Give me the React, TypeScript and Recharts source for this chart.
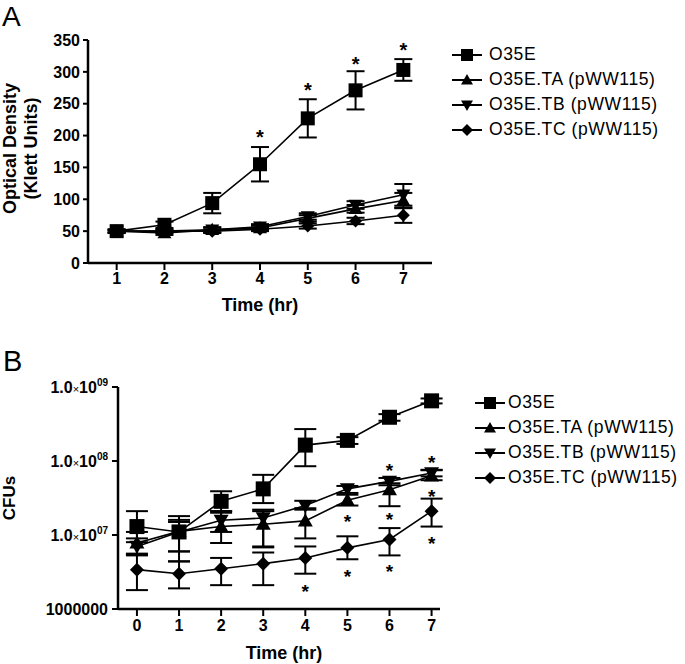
import React from "react";
import { ComposedChart, Line, XAxis, YAxis, ErrorBar, Legend, Label } from "recharts";

const FONT = "Arial, 'Liberation Sans', Helvetica, sans-serif";

// ---- panel A: optical density ----
const hoursA = [1, 2, 3, 4, 5, 6, 7];
const odO35E = [50, 60, 94, 155, 227, 271, 303];
const odO35EErr = [3, 5, 16, 27, 30, 30, 17];
const odTA = [50, 47, 52, 55, 70, 85, 98];
const odTAErr = [2, 3, 4, 4, 5, 6, 12];
const odTB = [50, 50, 52, 57, 73, 91, 107];
const odTBErr = [2, 3, 4, 4, 5, 6, 17];
const odTC = [50, 50, 50, 53, 58, 66, 75];
const odTCErr = [2, 2, 3, 3, 4, 5, 12];
const starsA = [null, null, null, 204, 278, 319, 341];
const ticksA = [0, 50, 100, 150, 200, 250, 300, 350];

// ---- panel B: CFUs (log) ----
const hoursB = [0, 1, 2, 3, 4, 5, 6, 7];
const cfuO35E = [1.3e7, 1.1e7, 2.85e7, 4.2e7, 1.64e8, 1.9e8, 3.9e8, 6.5e8];
const cfuO35ELo = [8e6, 6e6, 2.1e7, 2.7e7, 8.5e7, 1.7e8, 3.5e8, 6e8];
const cfuO35EHi = [2.1e7, 1.8e7, 3.9e7, 6.5e7, 2.7e8, 2.1e8, 4.3e8, 7e8];
const cfuTA = [7.8e6, 1.12e7, 1.3e7, 1.4e7, 1.55e7, 2.95e7, 4.1e7, 6.3e7];
const cfuTALo = [5.5e6, 6e6, 7.8e6, 7e6, 9e6, 2.5e7, 2.45e7, 5.5e7];
const cfuTAHi = [1.1e7, 1.6e7, 2.1e7, 2.2e7, 2.3e7, 3.5e7, 5e7, 7.5e7];
const cfuTB = [7e6, 1.1e7, 1.58e7, 1.7e7, 2.5e7, 4.2e7, 5.3e7, 6.9e7];
const cfuTBLo = [5.3e6, 4.4e6, 1.1e7, 6.8e6, 2.2e7, 3.7e7, 4.7e7, 6.2e7];
const cfuTBHi = [9e6, 1.5e7, 2e7, 2.1e7, 2.9e7, 4.6e7, 5.9e7, 7.6e7];
const cfuTC = [3.4e6, 3.0e6, 3.5e6, 4.1e6, 4.9e6, 6.7e6, 8.7e6, 2.1e7];
const cfuTCLo = [1.8e6, 1.9e6, 2.1e6, 2.1e6, 3e6, 4.7e6, 5.3e6, 1.3e7];
const cfuTCHi = [5.6e6, 4.4e6, 4.9e6, 5.8e6, 7e6, 9.6e6, 1.24e7, 3.1e7];
const starsB1 = [null, null, null, null, 2.0e6, 3.1e6, 3.7e6, 8.9e6];
const starsB2 = [null, null, null, null, null, 1.75e7, 1.86e7, 3.8e7];
const starsB3 = [null, null, null, null, null, null, 8.5e7, 1.1e8];
const ticksB = [1e6, 1e7, 1e8, 1e9];

const seriesNames = ["O35E", "O35E.TA (pWW115)", "O35E.TB (pWW115)", "O35E.TC (pWW115)"];
const shapes: Record<string, string> = { o35e: "square", ta: "up", tb: "down", tc: "diamond" };

const tableA = hoursA.map((t, i) => ({
  t,
  o35e: odO35E[i], o35eErr: odO35EErr[i],
  ta: odTA[i], taErr: odTAErr[i],
  tb: odTB[i], tbErr: odTBErr[i],
  tc: odTC[i], tcErr: odTCErr[i],
  s1: starsA[i],
}));

const tableB = hoursB.map((t, i) => ({
  t,
  o35e: cfuO35E[i], o35eErr: [cfuO35E[i] - cfuO35ELo[i], cfuO35EHi[i] - cfuO35E[i]],
  ta: cfuTA[i], taErr: [cfuTA[i] - cfuTALo[i], cfuTAHi[i] - cfuTA[i]],
  tb: cfuTB[i], tbErr: [cfuTB[i] - cfuTBLo[i], cfuTBHi[i] - cfuTB[i]],
  tc: cfuTC[i], tcErr: [cfuTC[i] - cfuTCLo[i], cfuTCHi[i] - cfuTC[i]],
  s1: starsB1[i], s2: starsB2[i], s3: starsB3[i],
}));

function Marker({ shape, cx, cy, size }: any) {
  const h = size / 2;
  if (shape === "square")
    return <rect x={cx - h} y={cy - h} width={size} height={size} fill="#000" />;
  if (shape === "up")
    return <polygon points={`${cx},${cy - h} ${cx + h},${cy + h * 0.75} ${cx - h},${cy + h * 0.75}`} fill="#000" />;
  if (shape === "down")
    return <polygon points={`${cx},${cy + h} ${cx + h},${cy - h * 0.75} ${cx - h},${cy - h * 0.75}`} fill="#000" />;
  return <polygon points={`${cx},${cy - h} ${cx + h},${cy} ${cx},${cy + h} ${cx - h},${cy}`} fill="#000" />;
}

const dotOf = (shape: string, size: number) => (props: any) => {
  const { cx, cy, index } = props;
  if (cx == null || cy == null) return <g key={index} />;
  return (
    <g key={index}>
      <Marker shape={shape} cx={cx} cy={cy} size={size} />
    </g>
  );
};

const starOf = (key: string, fs: number) => (props: any) => {
  const { cx, cy, index, payload } = props;
  if (cx == null || cy == null || payload == null || payload[key] == null) return <g key={index} />;
  return (
    <text key={index} x={cx} y={cy + fs * 0.57} textAnchor="middle" fontSize={fs} fontWeight="bold" fontFamily={FONT} fill="#000">
      *
    </text>
  );
};

const legendOf = (gap: number, rowH: number) => (props: any) => {
  const items = (props.payload || []).filter((p: any) => shapes[p.dataKey as string]);
  return (
    <div style={{ fontFamily: FONT, fontSize: 17.5, letterSpacing: 0.6, color: "#000" }}>
      {items.map((p: any) => (
        <div key={p.dataKey} style={{ display: "flex", alignItems: "center", height: rowH, whiteSpace: "nowrap" }}>
          <svg width={30} height={16} style={{ marginRight: gap }}>
            <line x1={0} y1={8} x2={30} y2={8} stroke="#000" strokeWidth={2} />
            <Marker shape={shapes[p.dataKey]} cx={15} cy={8} size={12} />
          </svg>
          <span>{p.value}</span>
        </div>
      ))}
    </div>
  );
};

function CfuTick({ x, y, payload }: any) {
  const exp = Math.round(Math.log10(payload.value));
  if (exp === 6)
    return (
      <text x={x} y={y} dy={6} textAnchor="end" fontFamily={FONT} fontSize={16} fontWeight="bold" fill="#000">
        1000000
      </text>
    );
  return (
    <text x={x} y={y} dy={6} textAnchor="end" fontFamily={FONT} fontSize={16} fontWeight="bold" fill="#000">
      1.0<tspan fontSize={11} fontWeight="normal">×</tspan>10
      <tspan fontSize={10} dy={-7}>{"0" + exp}</tspan>
    </text>
  );
}

const tickStyle = { fill: "#000", fontSize: 16, fontWeight: "bold", fontFamily: FONT };
const axisLine = { stroke: "#000", strokeWidth: 2.5 };
const tickLine = { stroke: "#000", strokeWidth: 2 };

function seriesLines(size: number, cap: number) {
  const keys = ["o35e", "ta", "tb", "tc"];
  return keys.map((k, i) => (
    <Line
      key={k}
      dataKey={k}
      name={seriesNames[i]}
      stroke="#000"
      strokeWidth={1.6}
      dot={dotOf(shapes[k], k === "tc" ? size - 1 : size)}
      activeDot={false}
      isAnimationActive={false}
    >
      <ErrorBar dataKey={k + "Err"} direction="y" width={cap} stroke="#000" strokeWidth={2} />
    </Line>
  ));
}

function starLines(keys: string[], fs: number) {
  return keys.map((k) => (
    <Line
      key={k}
      dataKey={k}
      stroke="none"
      legendType="none"
      dot={starOf(k, fs)}
      activeDot={false}
      isAnimationActive={false}
    />
  ));
}

export default function App() {
  return (
    <div style={{ position: "relative", width: 685, height: 664, background: "#fff", fontFamily: FONT }}>
      <style>{"body{margin:0;background:#fff}"}</style>
      <div style={{ position: "absolute", left: 2, top: 2, fontSize: 28, lineHeight: "30px", color: "#000" }}>A</div>
      <div style={{ position: "absolute", left: 3, top: 347, fontSize: 29, lineHeight: "29px", color: "#000" }}>B</div>

      <div style={{ position: "absolute", left: 0, top: 0 }}>
        <ComposedChart width={685} height={330} data={tableA} margin={{ top: 40, right: 253, bottom: 37, left: 28 }}>
          <XAxis
            dataKey="t"
            type="number"
            domain={[0.4, 7.6]}
            ticks={hoursA}
            height={30}
            tick={tickStyle}
            tickSize={7}
            tickMargin={3}
            axisLine={axisLine}
            tickLine={tickLine}
          >
            <Label value="Time (hr)" position="bottom" offset={5} style={{ fill: "#000", fontSize: 18, fontWeight: "bold", fontFamily: FONT }} />
          </XAxis>
          <YAxis
            type="number"
            domain={[0, 350]}
            ticks={ticksA}
            width={60}
            tick={tickStyle}
            tickSize={5}
            tickMargin={3}
            axisLine={axisLine}
            tickLine={tickLine}
            allowDataOverflow
          >
            <Label
              content={(p: any) => {
                const cy = p.viewBox.y + p.viewBox.height / 2;
                const st = { fontSize: 18, fontWeight: "bold", fontFamily: FONT, fill: "#000" } as any;
                return (
                  <g>
                    <text transform={`translate(16,${cy - 3}) rotate(-90)`} textAnchor="middle" {...st}>Optical Density</text>
                    <text transform={`translate(37,${cy - 3}) rotate(-90)`} textAnchor="middle" {...st}>(Klett Units)</text>
                  </g>
                );
              }}
            />
          </YAxis>
          {seriesLines(14, 9)}
          {starLines(["s1"], 20)}
          <Legend layout="vertical" align="center" verticalAlign="middle" wrapperStyle={{ left: 452, top: 42 }} content={legendOf(7, 25)} />
        </ComposedChart>
      </div>

      <div style={{ position: "absolute", left: 0, top: 330 }}>
        <ComposedChart width={685} height={334} data={tableB} margin={{ top: 57, right: 245, bottom: 25, left: 38 }}>
          <XAxis
            dataKey="t"
            type="number"
            domain={[-0.45, 7.2]}
            ticks={hoursB}
            height={30}
            tick={tickStyle}
            tickSize={7}
            tickMargin={4}
            axisLine={axisLine}
            tickLine={tickLine}
          >
            <Label value="Time (hr)" position="bottom" offset={7} dx={5} style={{ fill: "#000", fontSize: 18, fontWeight: "bold", fontFamily: FONT }} />
          </XAxis>
          <YAxis
            type="number"
            scale="log"
            domain={[1e6, 1e9]}
            ticks={ticksB}
            width={80}
            tick={<CfuTick />}
            tickSize={6}
            tickMargin={4}
            axisLine={axisLine}
            tickLine={tickLine}
            allowDataOverflow
          >
            <Label
              content={(p: any) => {
                const cy = p.viewBox.y + p.viewBox.height / 2;
                return (
                  <text transform={`translate(15,${cy}) rotate(-90)`} textAnchor="middle" fontSize={17} fontWeight="bold" fontFamily={FONT} fill="#000">
                    CFUs
                  </text>
                );
              }}
            />
          </YAxis>
          {seriesLines(15, 11)}
          {starLines(["s1", "s2", "s3"], 19)}
          <Legend layout="vertical" align="center" verticalAlign="middle" wrapperStyle={{ left: 475, top: 60 }} content={legendOf(3, 25)} />
        </ComposedChart>
      </div>
    </div>
  );
}
